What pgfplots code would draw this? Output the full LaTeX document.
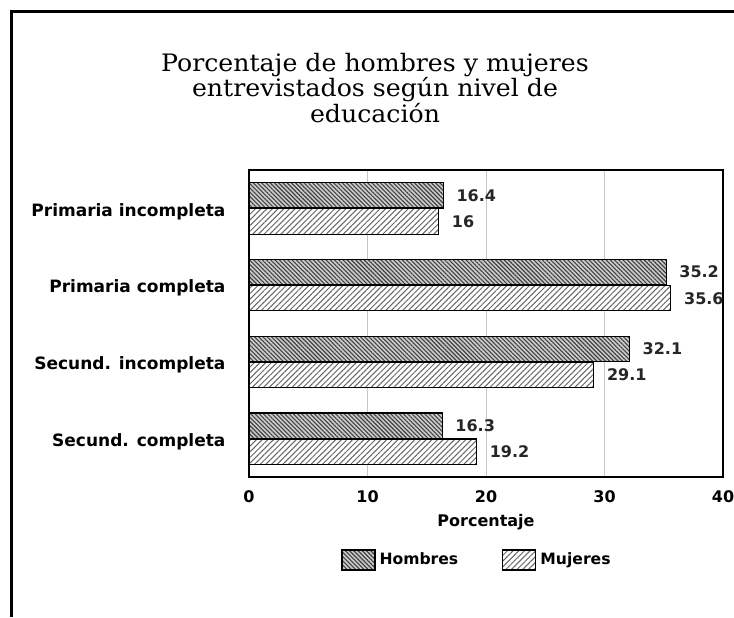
\documentclass[border=0pt]{standalone}
\usepackage{fontspec}
\setmainfont{DejaVu Sans}
\newfontfamily\titlefont{DejaVu Serif}[FakeStretch=1.05]
\usepackage{pgfplots}
\pgfplotsset{compat=1.18}
\usetikzlibrary{patterns.meta}
\begin{document}
\begin{tikzpicture}[x=0.5pt,y=-0.5pt]
\path[use as bounding box] (0,0) rectangle (734,617);
\draw[line width=1.5pt] (11,617) -- (11,11.5) -- (734,11.5);
\node[font=\titlefont\fontsize{12}{12.7}\selectfont, align=center] at (375,88) {Porcentaje de hombres y mujeres\\entrevistados según nivel de\\educación};
\coordinate (O) at (249,477);
\begin{axis}[
 at={(O)}, anchor=south west,
 scale only axis, width=237pt, height=153.5pt,
 xmin=0, xmax=40, ymin=-0.5, ymax=3.5,
 xbar, bar width=0.33,
 xtick={0,10,20,30,40},
 ytick={0,1,2,3},
 yticklabels={Secund. completa, Secund. incompleta, Primaria completa, Primaria incompleta},
 tick style={draw=none},
 xmajorgrids, grid style={gray!45, line width=0.4pt},
 axis line style={line width=0.8pt},
 ticklabel style={font=\bfseries\fontsize{8}{9}\selectfont},
 /pgf/number format/assume math mode=true,
 xticklabel style={anchor=center, yshift=-10pt},
 yticklabel style={anchor=east, xshift=-4pt, yshift=-1.5pt, font=\bfseries\fontsize{8.5}{9}\selectfont},
 xlabel={Porcentaje},
 xlabel style={at={(axis description cs:0.5,-0.147)}, anchor=center, font=\bfseries\fontsize{8}{9}\selectfont},
 legend style={at={(axis description cs:0.483,-0.27)}, anchor=center, draw=none, legend columns=2, font=\bfseries\fontsize{7.8}{9}\selectfont, /tikz/every even column/.append style={column sep=20pt}, /tikz/every odd column/.append style={}},
 legend image code/.code={\path[#1] (0pt,-5pt) rectangle (16.5pt,5pt);},
 nodes near coords,
 nodes near coords style={anchor=west, xshift=3pt, font=\bfseries\fontsize{8}{9}\selectfont, text=black!85},
 point meta=explicit symbolic,
]
\addplot[bar shift=0.17, draw=black, line width=0.6pt, fill=gray!40,
  postaction={pattern={Lines[angle=-45,distance=1.5pt,line width=0.55pt]}, pattern color=black!75}]
  coordinates {(16.4,3)[16.4] (35.2,2)[35.2] (32.1,1)[32.1] (16.3,0)[16.3]};
\addplot[bar shift=-0.17, draw=black, line width=0.6pt, fill=white,
  postaction={pattern={Lines[angle=45,distance=2pt,line width=0.5pt]}, pattern color=black!60}]
  coordinates {(16,3)[16] (35.6,2)[35.6] (29.1,1)[29.1] (19.2,0)[19.2]};
\legend{Hombres, Mujeres}
\end{axis}
\end{tikzpicture}
\end{document}
